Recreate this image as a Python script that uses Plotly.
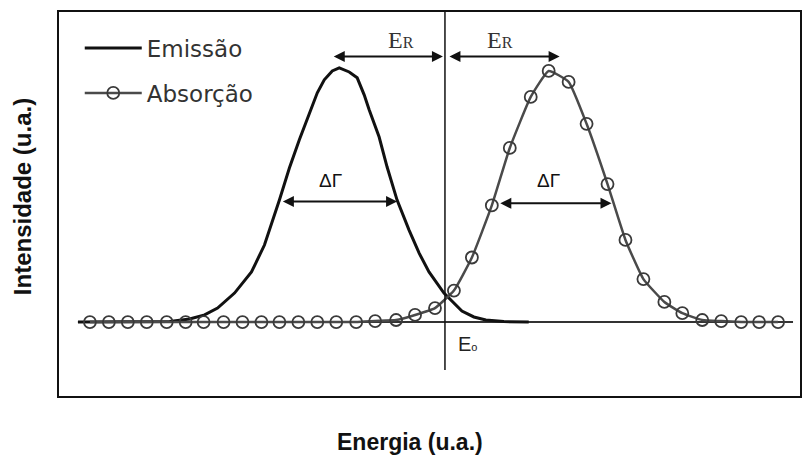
import plotly.graph_objects as go

# Energy axis (arbitrary units, E0 = 0) and intensity (% of peak)
abs_energy = [-35.6, -33.7, -31.8, -29.9, -27.9, -26.0, -24.2, -22.2, -20.3, -18.4,
              -16.6, -14.7, -12.8, -10.9, -8.9, -7.0, -4.9, -3.0, -1.0, 0.9,
              2.7, 4.7, 6.5, 8.6, 10.4, 12.4, 14.2, 16.3, 18.1, 19.9,
              22.0, 23.8, 25.8, 27.7, 29.7, 31.5, 33.4]
abs_intensity = [0, 0, 0, 0, 0, 0, 0, 0, 0, 0,
                 0, 0, 0, 0, 0, 0.4, 0.8, 2.8, 5.5, 12.4,
                 25.4, 45.9, 68.5, 88.6, 98.8, 94.5, 78.0, 54.3, 32.3, 16.9,
                 7.9, 3.5, 0.8, 0.4, 0, 0, 0]

em_energy = [-36.8, -29.6, -27.6, -25.6, -24.1, -22.8, -21.1, -19.4, -18.1, -16.6,
             -15.6, -14.6, -13.6, -12.8, -12.1, -11.3, -10.6, -9.6, -8.8, -8.1,
             -7.6, -6.6, -5.8, -4.8, -3.6, -2.6, -1.6, -0.1, 1.7, 2.9,
             4.1, 5.9, 8.4]
em_intensity = [0, 0, 0.2, 1.2, 2.8, 5.5, 11.4, 19.7, 30.3, 48.0,
                60.6, 71.7, 82.3, 90.2, 95.3, 98.8, 100, 98.4, 96.1, 89.4,
                83.5, 72.8, 61.0, 48.0, 36.2, 27.2, 19.7, 11.4, 4.3, 2.0,
                0.8, 0.2, 0]

baseline_energy = [-36.8, 34.9]
baseline_intensity = [0, 0]

E0 = 0.0
E0_line_y = [-18.9, 122.0]
ER_arrow_y = 104.5
ER_left = [-11.3, -0.2]
ER_right = [0.3, 11.5]
ER_label_x = [-4.4, 5.5]
ER_label_y = 111.0
dG_left = [-16.4, -4.8]
dG_left_y = 47.4
dG_right = [5.4, 16.7]
dG_right_y = 46.7
dG_label_x = [-11.5, 10.4]
dG_label_y = 55.8
E0_label = (2.3, -8.5)

x_range = [-38.7, 35.6]
y_range = [-29.1, 122.0]

fig = go.Figure()

fig.add_trace(go.Scatter(
    x=baseline_energy, y=baseline_intensity, mode="lines",
    line=dict(color="#333333", width=2), showlegend=False, hoverinfo="skip"))

fig.add_trace(go.Scatter(
    x=em_energy, y=em_intensity, mode="lines", name="Emissão",
    line=dict(color="#111111", width=3),
    legendgroup="a"))

fig.add_trace(go.Scatter(
    x=abs_energy, y=abs_intensity, mode="lines+markers", name="Absorção",
    line=dict(color="#4a4a4a", width=2.5, shape="spline", smoothing=0.4),
    marker=dict(symbol="circle-open", size=12, color="#3a3a3a",
                line=dict(width=1.8, color="#3a3a3a")),
    legendgroup="b"))

fig.add_trace(go.Scatter(
    x=[E0, E0], y=E0_line_y, mode="lines",
    line=dict(color="#111111", width=1.5), showlegend=False, hoverinfo="skip"))

annotations = []

def double_arrow(x0, x1, y):
    annotations.append(dict(x=x1, y=y, ax=x0, ay=y, xref="x", yref="y",
                            axref="x", ayref="y", text="", showarrow=True,
                            arrowhead=2, startarrowhead=2, arrowside="end+start",
                            arrowsize=1.1, startarrowsize=1.1,
                            arrowwidth=2, arrowcolor="#111111"))

double_arrow(ER_left[0], ER_left[1], ER_arrow_y)
double_arrow(ER_right[0], ER_right[1], ER_arrow_y)
double_arrow(dG_left[0], dG_left[1], dG_left_y)
double_arrow(dG_right[0], dG_right[1], dG_right_y)

for xl in ER_label_x:
    annotations.append(dict(x=xl, y=ER_label_y, xref="x", yref="y",
                            text="E<span style='font-size:16px'>R</span>",
                            showarrow=False,
                            font=dict(family="Liberation Serif", size=24, color="#333333")))
for xl in dG_label_x:
    annotations.append(dict(x=xl, y=dG_label_y, xref="x", yref="y", text="ΔΓ",
                            showarrow=False,
                            font=dict(family="Liberation Sans", size=19, color="#111111")))

annotations.append(dict(x=E0_label[0], y=E0_label[1], xref="x", yref="y",
                        text="E<span style='font-size:11px'>o</span>", showarrow=False,
                        font=dict(family="Liberation Sans", size=20, color="#222222")))

annotations.append(dict(x=0.474, y=-0.12, xref="paper", yref="paper",
                        text="<b>Energia (u.a.)</b>", showarrow=False,
                        xanchor="center", yanchor="middle",
                        font=dict(family="Liberation Sans", size=23, color="#111111")))
annotations.append(dict(x=-0.0498, y=0.518, xref="paper", yref="paper",
                        text="<b>Intensidade (u.a.)</b>", showarrow=False,
                        textangle=-90, xanchor="center", yanchor="middle",
                        font=dict(family="Liberation Sans", size=24, color="#111111")))

fig.update_layout(
    width=803, height=475,
    margin=dict(l=59, r=1, t=12, b=79),
    paper_bgcolor="white", plot_bgcolor="white",
    showlegend=True,
    legend=dict(x=0.028, y=0.962, xanchor="left", yanchor="top",
                bgcolor="rgba(0,0,0,0)", traceorder="grouped",
                tracegroupgap=12, itemwidth=57,
                font=dict(family="DejaVu Sans", size=23, color="#333333")),
    annotations=annotations,
)
fig.update_xaxes(range=x_range, showgrid=False, zeroline=False, showticklabels=False,
                 ticks="", showline=True, mirror=True, linecolor="#111111", linewidth=2)
fig.update_yaxes(range=y_range, showgrid=False, zeroline=False, showticklabels=False,
                 ticks="", showline=True, mirror=True, linecolor="#111111", linewidth=2)

fig.write_html("out.html", config={"displayModeBar": False},
               post_script="document.body.style.margin='0px';")
